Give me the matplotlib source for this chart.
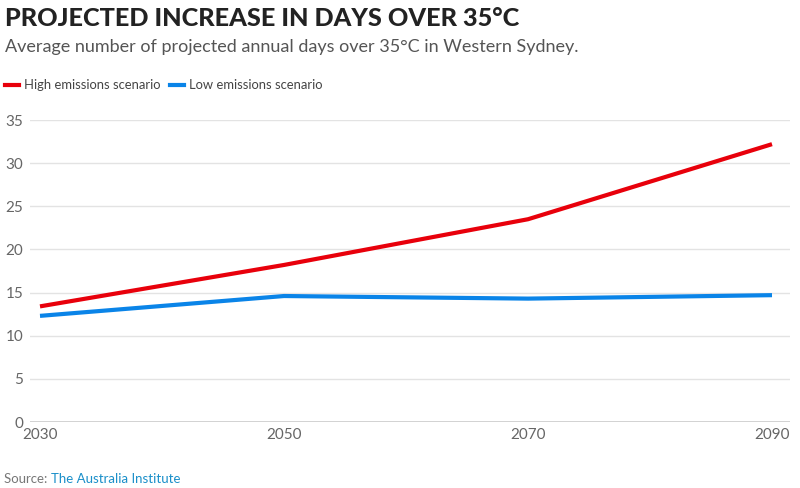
import matplotlib
matplotlib.use("Agg")
import matplotlib.pyplot as plt

years = [2030, 2050, 2070, 2090]
high_emissions = [13.4, 18.2, 23.5, 32.2]
low_emissions = [12.3, 14.6, 14.3, 14.7]
y_ticks = [0, 5, 10, 15, 20, 25, 30, 35]

plt.rcParams['font.family'] = ['Lato', 'DejaVu Sans']

fig = plt.figure(figsize=(8, 4.88), dpi=100)
ax = fig.add_axes([30/800, 1 - 422/488, 760/800, 302/488])

ax.plot(years, high_emissions, color='#e8000b', lw=3, solid_capstyle='butt', zorder=3)
ax.plot(years, low_emissions, color='#0a84e8', lw=3, solid_capstyle='butt', zorder=3)

ax.set_xlim(2030 - 10/12.2, 2030 + 750/12.2)
ax.set_ylim(0, 35)
ax.set_yticks(y_ticks)
ax.set_xticks(years)
ax.set_xticklabels([str(y) for y in years])
for s in ax.spines.values():
    s.set_visible(False)
ax.grid(axis='y', color='#e3e3e3', lw=1)
ax.axhline(0, color='#cccccc', lw=1.2, zorder=2)
ax.tick_params(axis='both', length=0, labelsize=11, colors='#666666')
ax.tick_params(axis='y', pad=5)
ax.tick_params(axis='x', pad=4)

fig.text(5/800, 1 - 18/488, 'PROJECTED INCREASE IN DAYS OVER 35°C', fontsize=18.2,
         fontweight='black', color='#222222', va='center', ha='left')
fig.text(5/800, 1 - 47/488, 'Average number of projected annual days over 35°C in Western Sydney.',
         fontsize=13, color='#555555', va='center', ha='left')

# legend
ly = 1 - 85/488
fig.lines.append(plt.Line2D([5/800, 19/800], [ly, ly], color='#e8000b', lw=3, transform=fig.transFigure))
fig.text(24/800, ly, 'High emissions scenario', fontsize=9.4, color='#444444', va='center', ha='left')
fig.lines.append(plt.Line2D([170/800, 184/800], [ly, ly], color='#0a84e8', lw=3, transform=fig.transFigure))
fig.text(189/800, ly, 'Low emissions scenario', fontsize=9.4, color='#444444', va='center', ha='left')

# source
sy = 1 - 479/488
t = fig.text(4/800, sy, 'Source: ', fontsize=9.5, color='#777777', va='center', ha='left')
fig.canvas.draw()
bb = t.get_window_extent()
fig.text(bb.x1/800, sy, 'The Australia Institute', fontsize=9.5, color='#1a8fc9', va='center', ha='left')

fig.savefig('out.png', dpi=100, facecolor='white')
